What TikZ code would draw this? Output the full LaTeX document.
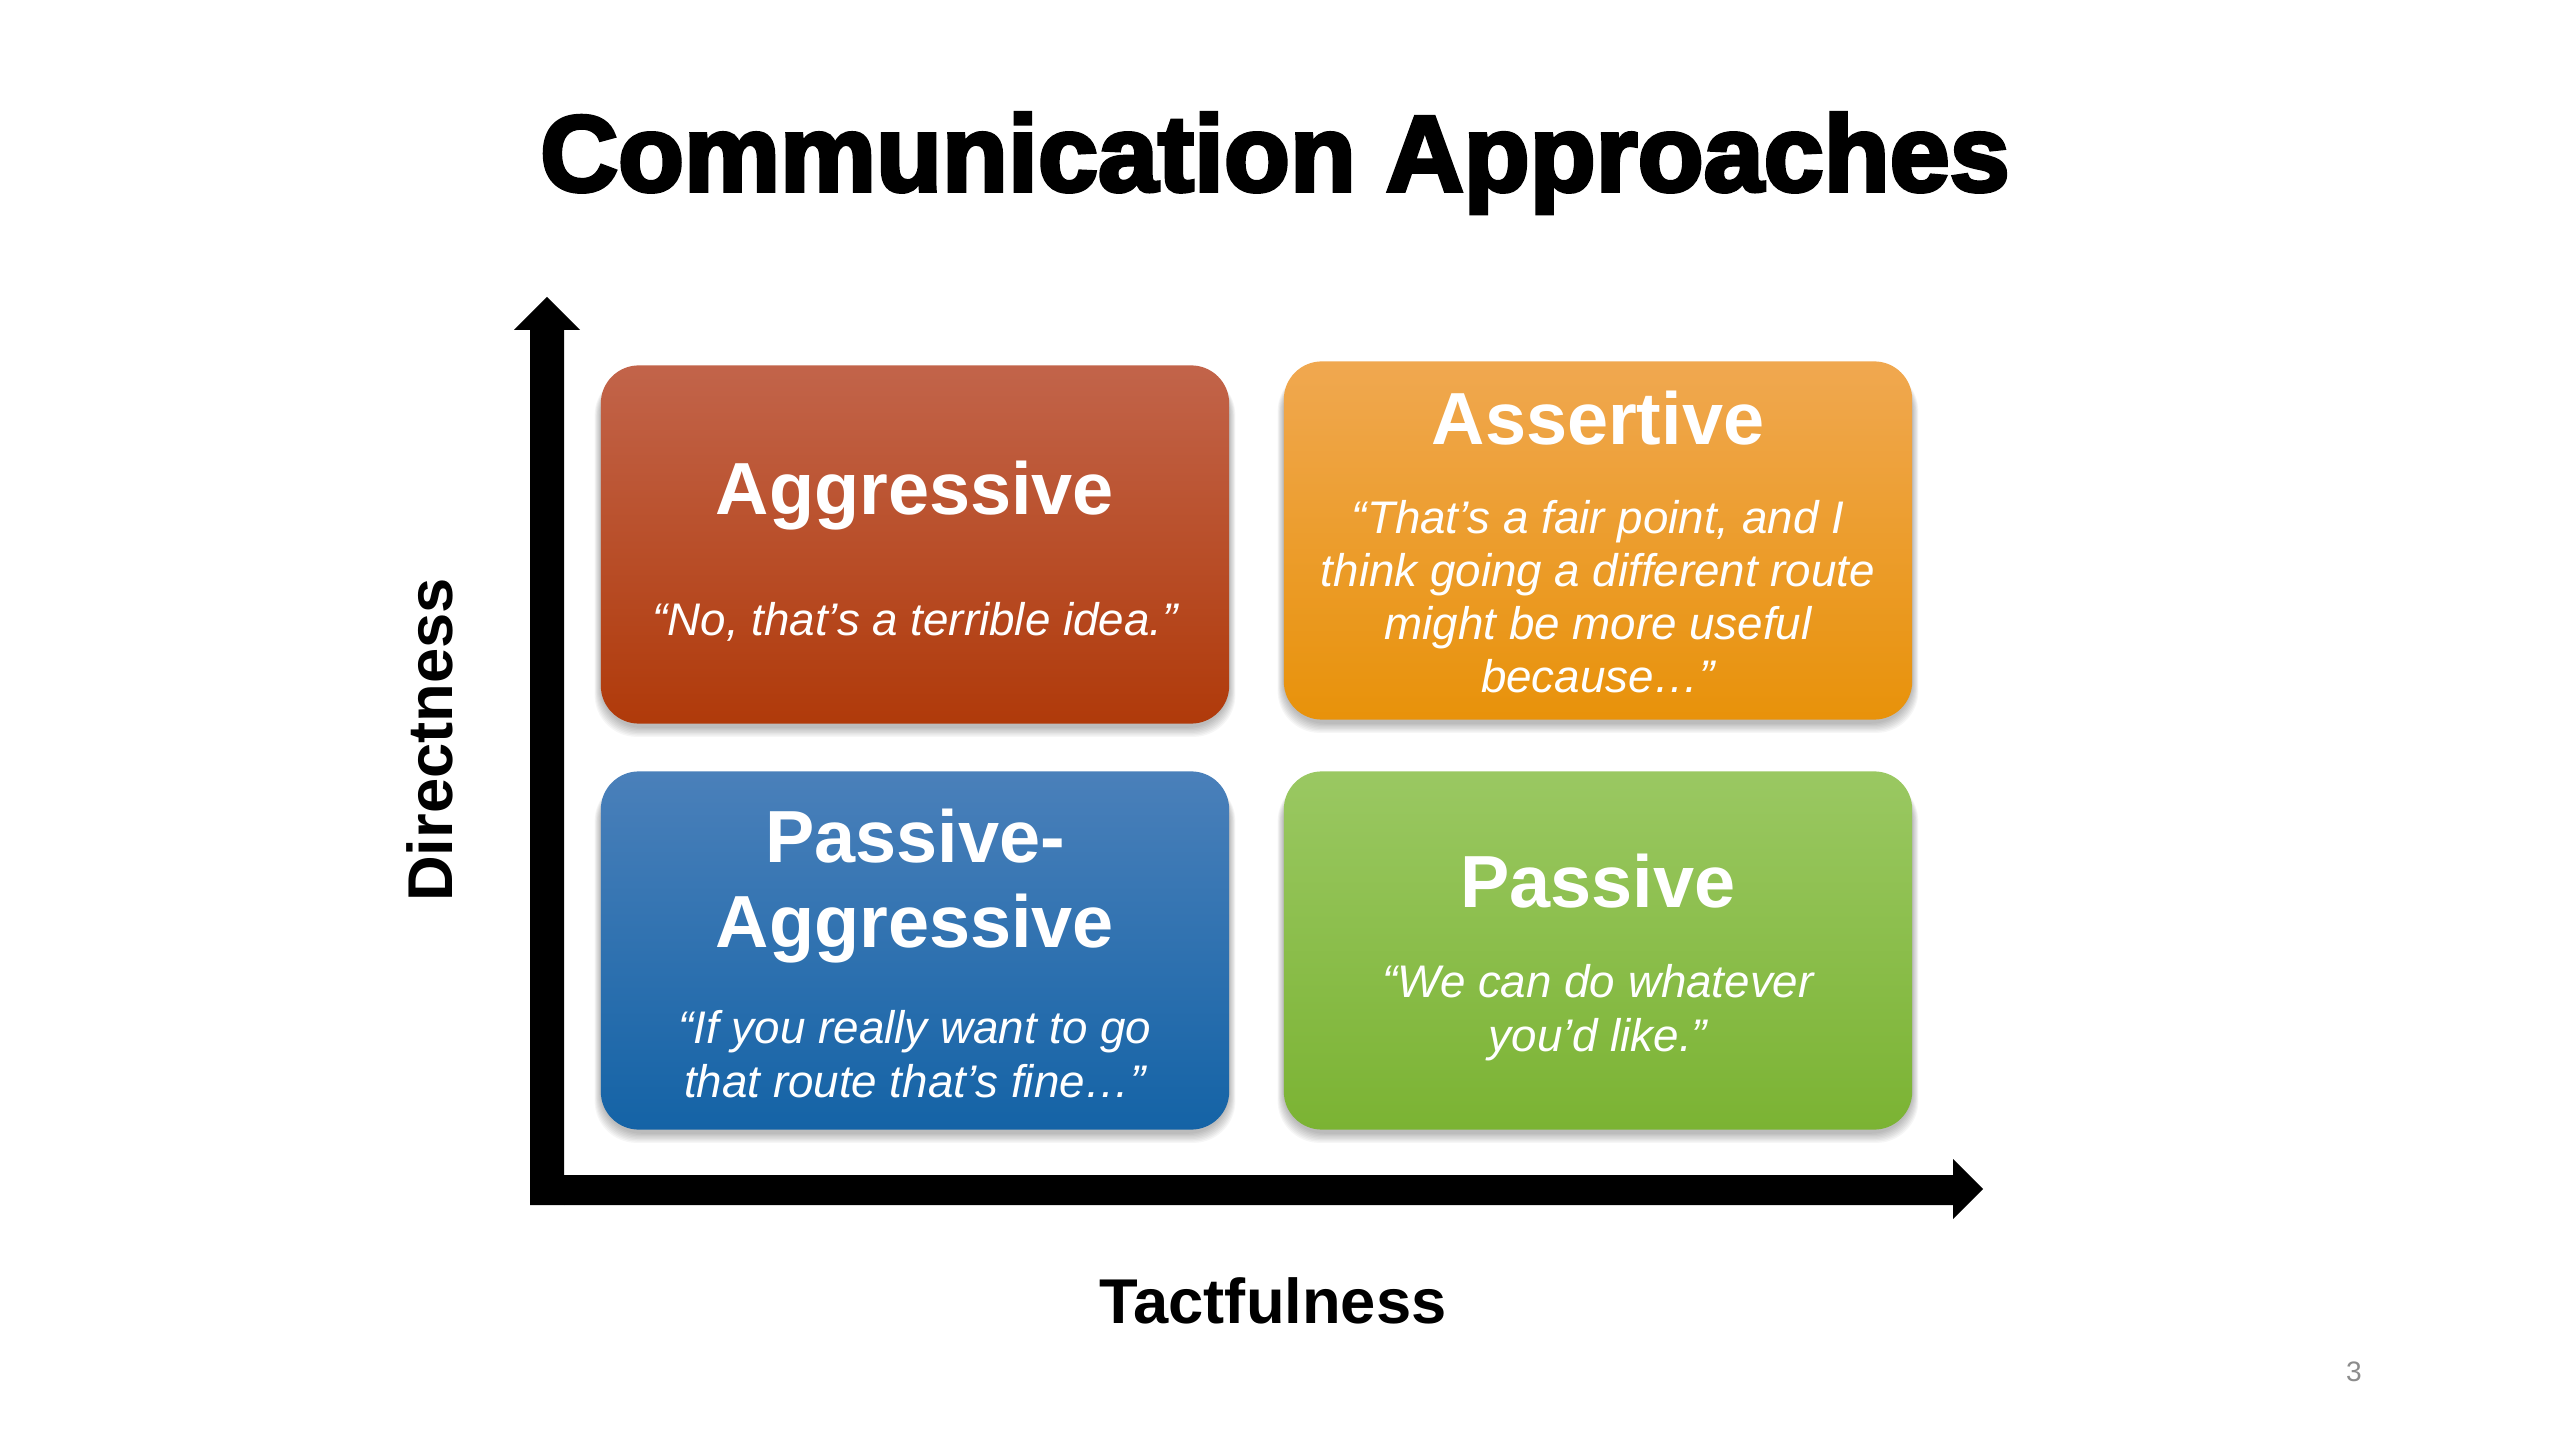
\documentclass[tikz,border=0pt]{standalone}
\usepackage{fontspec}
\setmainfont{Liberation Sans}
\newfontfamily\titlefont[FakeBold=3.5]{Liberation Sans Bold}
\definecolor{aggtop}{HTML}{C2644A}
\definecolor{aggmid}{HTML}{BF4A1C}
\definecolor{aggbot}{HTML}{B03A0A}
\definecolor{asstop}{HTML}{F0A850}
\definecolor{assmid}{HTML}{F6A01E}
\definecolor{assbot}{HTML}{E8920A}
\definecolor{patop}{HTML}{4A80BA}
\definecolor{pamid}{HTML}{2A72B5}
\definecolor{pabot}{HTML}{1463A6}
\definecolor{pastop}{HTML}{9AC862}
\definecolor{pasmid}{HTML}{8CC33F}
\definecolor{pasbot}{HTML}{7BB333}
\begin{document}
\begin{tikzpicture}[x=0.01cm,y=-0.01cm,
  quadbox/.style={rounded corners=0.38cm, minimum width=6.28cm, minimum height=3.58cm, inner sep=0pt, draw=none},
  ttl/.style={text=white, font=\fontsize{21}{25}\selectfont\bfseries, anchor=base, inner sep=0pt},
  quo/.style={text=white, font=\fontsize{13}{15}\selectfont\itshape, anchor=base, inner sep=0pt},
  axislab/.style={font=\fontsize{18}{22}\selectfont\bfseries, anchor=base, inner sep=0pt},
  softsh/.style={fill=black, opacity=0.035, rounded corners=0.42cm}]
\useasboundingbox (0,0) rectangle (2560,1440);
\fill[white] (0,0) rectangle (2560,1440);

% title
\node[font=\titlefont\fontsize{30.7}{36}\selectfont, anchor=base, inner sep=0pt] (title) at (1275,191) {Communication Approaches};

% soft shadows
\foreach \cx/\cy in {915/544.5,1598/540.5,915/950.5,1598/950.5}{
  \foreach \s in {1,...,8}{
    \fill[softsh] (\cx-314-\s*0.8, \cy-179+8) rectangle (\cx+314+\s*0.8, \cy+179+3+\s*1.3);
  }
}

% quadrant boxes
\node[quadbox, top color=aggtop, middle color=aggmid, bottom color=aggbot] (agg) at (915,544.5) {};
\node[quadbox, top color=asstop, middle color=assmid, bottom color=assbot] (ass) at (1598,540.5) {};
\node[quadbox, top color=patop, middle color=pamid, bottom color=pabot] (pa) at (915,950.5) {};
\node[quadbox, top color=pastop, middle color=pasmid, bottom color=pasbot] (pas) at (1598,950.5) {};

% texts
\node[ttl] (aggT) at (915,515) {Aggressive};
\node[quo] (aggQ) at (915,636) {“No, that’s a terrible idea.”};

\node[ttl] (assT) at (1598,445) {Assertive};
\node[quo] (assQ1) at (1598,534) {“That’s a fair point, and I};
\node[quo] (assQ2) at (1598,587) {think going a different route};
\node[quo] (assQ3) at (1598,640) {might be more useful};
\node[quo] (assQ4) at (1598,693) {because…”};

\node[ttl] (paT1) at (915,863) {Passive-};
\node[ttl] (paT2) at (915,948) {Aggressive};
\node[quo] (paQ1) at (915,1043) {“If you really want to go};
\node[quo] (paQ2) at (915,1097) {that route that’s fine…”};

\node[ttl] (pasT) at (1598,907) {Passive};
\node[quo] (pasQ1) at (1598,997) {“We can do whatever};
\node[quo] (pasQ2) at (1598,1051) {you’d like.”};

% axes
\coordinate (origin) at (547,1205);
\fill[black] (530,1205) -- (530,330) -- (514,330) -- (547,297) -- (580,330) -- (564,330) -- (564,1205) -- cycle;
\fill[black] (564,1175) -- (1953,1175) -- (1953,1159) -- (1983,1189) -- (1953,1219) -- (1953,1205) -- (564,1205) -- cycle;

\node[axislab, rotate=90] (ylab) at (452,740) {Directness};
\node[axislab] (xlab) at (1273,1323) {Tactfulness};

\node[text=black!45, font=\fontsize{8}{10}\selectfont, anchor=base, inner sep=0pt] (pg) at (2354,1381) {3};
\end{tikzpicture}
\end{document}
